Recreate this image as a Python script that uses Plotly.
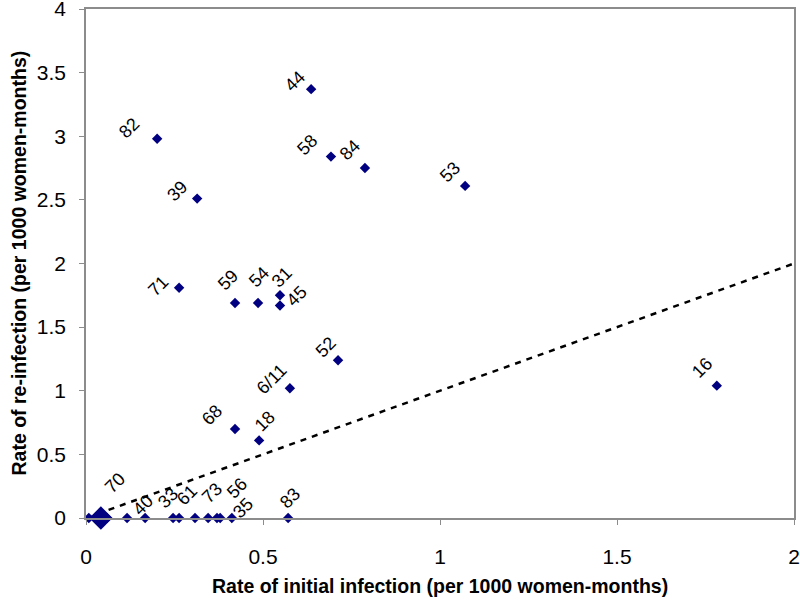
import plotly.graph_objects as go

# Study sites: rate of initial infection vs rate of re-infection (per 1000 women-months)
site_labels = ["44", "82", "58", "84", "39", "71", "59", "54", "31", "45",
               "53", "16", "52", "6/11", "68", "18",
               "70", "40", "33", "61", "73", "56", "35", "83"]
initial_rate = [0.636, 0.201, 0.692, 0.788, 0.314, 0.263, 0.421, 0.486, 0.548, 0.548,
                1.071, 1.782, 0.712, 0.576, 0.421, 0.489,
                0.059, 0.167, 0.246, 0.308, 0.370, 0.379, 0.412, 0.571]
reinfection_rate = [3.37, 2.98, 2.84, 2.75, 2.51, 1.81, 1.69, 1.69, 1.75, 1.67,
                    2.61, 1.04, 1.24, 1.02, 0.70, 0.61,
                    0.0, 0.0, 0.0, 0.0, 0.0, 0.0, 0.0, 0.0]

# unlabeled sites sitting on zero re-infection
unlabeled_initial = [0.008, 0.116, 0.263, 0.345]
unlabeled_reinfection = [0.0, 0.0, 0.0, 0.0]

# overlapping cluster near the origin (drawn as one large marker)
cluster_initial = [0.042]
cluster_reinfection = [0.0]

# reference line y = x
ref_x = [0, 2]
ref_y = [0, 2]

x_ticks = [0, 0.5, 1, 1.5, 2]
x_tick_text = ["0", "0.5", "1", "1.5", "2"]
y_ticks = [0, 0.5, 1, 1.5, 2, 2.5, 3, 3.5, 4]
y_tick_text = ["0", "0.5", "1", "1.5", "2", "2.5", "3", "3.5", "4"]

x_title = "Rate of initial infection (per 1000 women-months)"
y_title = "Rate of re-infection (per 1000 women-months)"

# label offsets in pixels (style only)
label_shift = {
    "44": (-16, 8), "82": (-28, 11), "58": (-24, 12), "84": (-15, 18),
    "39": (-20, 8), "71": (-21, 2), "59": (-7, 23), "54": (1, 26),
    "31": (2, 18), "45": (17, 9), "53": (-15, 14), "16": (-15, 18),
    "52": (-12, 13), "6/11": (-18, 9), "68": (-23, 14), "18": (6, 19),
    "70": (8, 35), "40": (-2, 13), "33": (-5, 20), "61": (-8, 23),
    "73": (-5, 25), "56": (17, 30), "35": (11, 10), "83": (2, 20),
}

FONT = "Liberation Sans, Arial, sans-serif"
navy = "#000080"
fig = go.Figure()

fig.add_trace(go.Scatter(x=ref_x, y=ref_y, mode="lines",
                         line=dict(color="black", width=2.5, dash="6px,6px"),
                         hoverinfo="skip", cliponaxis=False))
fig.add_trace(go.Scatter(x=unlabeled_initial, y=unlabeled_reinfection, mode="markers",
                         marker=dict(symbol="diamond", size=8, color=navy),
                         cliponaxis=False))
fig.add_trace(go.Scatter(x=cluster_initial, y=cluster_reinfection, mode="markers",
                         marker=dict(symbol="diamond", size=18, color=navy),
                         cliponaxis=False))
fig.add_trace(go.Scatter(x=initial_rate, y=reinfection_rate, mode="markers",
                         marker=dict(symbol="diamond", size=8, color=navy),
                         text=site_labels, cliponaxis=False))

for lab, xv, yv in zip(site_labels, initial_rate, reinfection_rate):
    dx, dy = label_shift[lab]
    fig.add_annotation(x=xv, y=yv, text=lab, showarrow=False, textangle=-45,
                       xshift=dx, yshift=dy,
                       font=dict(family=FONT, size=18, color="black"))

# axis titles
fig.add_annotation(xref="paper", yref="paper", x=0.5, y=0, yshift=-68,
                   text="<b>" + x_title + "</b>", showarrow=False,
                   xanchor="center", yanchor="middle",
                   font=dict(family=FONT, size=19.5, color="black"))
fig.add_annotation(xref="paper", yref="paper", x=0, y=0.5, xshift=-68,
                   text="<b>" + y_title + "</b>", showarrow=False, textangle=-90,
                   xanchor="center", yanchor="middle",
                   font=dict(family=FONT, size=19.5, color="black"))

axis_common = dict(showgrid=False, zeroline=False, showline=True, linecolor="#8c8c8c",
                   linewidth=1.5, mirror=True, ticks="outside", ticklen=5,
                   tickcolor="#8c8c8c", automargin=False, ticklabeloverflow="allow",
                   tickfont=dict(family=FONT, size=21, color="black"))

fig.update_xaxes(range=[0, 2], tickvals=x_ticks, ticktext=x_tick_text,
                 ticklabelstandoff=14, **axis_common)
fig.update_yaxes(range=[0, 4], tickvals=y_ticks, ticktext=y_tick_text,
                 ticklabelstandoff=9, **axis_common)

fig.update_layout(width=800, height=605, showlegend=False,
                  plot_bgcolor="white", paper_bgcolor="white",
                  margin=dict(l=86, r=6, t=9, b=87))

fig.write_html("out.html", config={"displayModeBar": False},
               post_script="document.body.style.margin='0';document.body.style.overflow='hidden';")
